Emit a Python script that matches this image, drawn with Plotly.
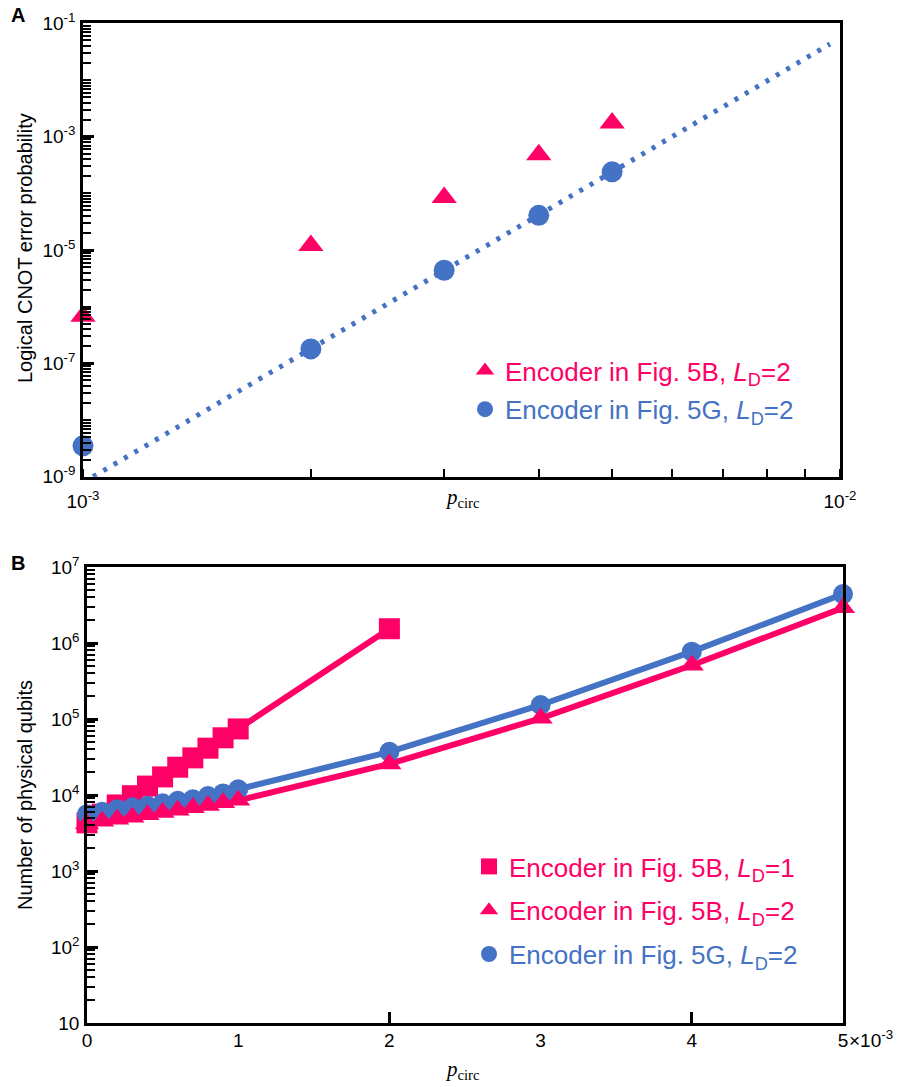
import plotly.graph_objects as go

W, H = 906, 1087
PINK = "#FF0066"
BLUE = "#4472C4"
SANS = "Liberation Sans, Arial, sans-serif"
SERIF = "Liberation Serif, Times New Roman, serif"

# ---------------- Panel A data ----------------
a_p = [1e-3, 2e-3, 3e-3, 4e-3, 5e-3]
a_tri = [6.8e-7, 1.2e-5, 8.5e-5, 4.8e-4, 1.75e-3]       # Encoder 5B, LD=2
a_circ = [3.5e-9, 1.8e-7, 4.4e-6, 4.1e-5, 2.4e-4]       # Encoder 5G, LD=2
fit_x = [1.031e-3, 9.70e-3]                               # dotted fit endpoints
fit_y = [1.0e-9, 4.33e-2]

# ---------------- Panel B data ----------------
b_sq_p = [0, 1e-4, 2e-4, 3e-4, 4e-4, 5e-4, 6e-4, 7e-4, 8e-4, 9e-4, 1e-3, 2e-3]
b_sq = [4.3e3, 5.6e3, 7.4e3, 9.8e3, 1.31e4, 1.73e4, 2.32e4, 3.08e4, 4.13e4,
        5.66e4, 7.4e4, 1.54e6]                              # Encoder 5B, LD=1
b_p = [0, 1e-4, 2e-4, 3e-4, 4e-4, 5e-4, 6e-4, 7e-4, 8e-4, 9e-4, 1e-3,
       2e-3, 3e-3, 4e-3, 5e-3]
b_tri = [4.2e3, 4.5e3, 4.8e3, 5.1e3, 5.5e3, 5.9e3, 6.3e3, 6.8e3, 7.3e3,
         7.9e3, 8.5e3, 2.56e4, 1.02e5, 5.1e5, 2.9e6]        # Encoder 5B, LD=2
b_circ = [5.6e3, 6.0e3, 6.5e3, 6.9e3, 7.2e3, 7.8e3, 8.4e3, 8.8e3, 9.7e3,
          1.05e4, 1.19e4, 3.7e4, 1.53e5, 7.7e5, 4.4e6]      # Encoder 5G, LD=2

a_yticks = [1e-1, 1e-3, 1e-5, 1e-7, 1e-9]
a_yticktext = ["10<sup>-1</sup>", "10<sup>-3</sup>", "10<sup>-5</sup>",
               "10<sup>-7</sup>", "10<sup>-9</sup>"]
a_xticks = [1e-3, 1e-2]
a_xticktext = ["10<sup>-3</sup>", "10<sup>-2</sup>"]
b_yticks = [1e1, 1e2, 1e3, 1e4, 1e5, 1e6, 1e7]
b_yticktext = ["10", "10<sup>2</sup>", "10<sup>3</sup>", "10<sup>4</sup>",
               "10<sup>5</sup>", "10<sup>6</sup>", "10<sup>7</sup>"]
b_xticks = [0, 1e-3, 2e-3, 3e-3, 4e-3, 5e-3]
b_xticktext = ["0", "1", "2", "3", "4", "5"]
b_xmarks = [2e-3, 4e-3]


def lab(color, txt, ld):
    return (f'<span style="color:{color}">{txt}, <i>L</i><sub>D</sub>={ld}</span>')


fig = go.Figure()

# Panel A
fig.add_trace(go.Scatter(x=fit_x, y=fit_y, mode="lines", xaxis="x", yaxis="y",
                         line=dict(color=BLUE, width=5, dash="4px,8px"),
                         showlegend=False, hoverinfo="skip"))
fig.add_trace(go.Scatter(x=a_p, y=a_circ, mode="markers", xaxis="x", yaxis="y",
                         marker=dict(symbol="circle", size=21, color=BLUE),
                         cliponaxis=False, legendgroup="a2",
                         name=lab(BLUE, "Encoder in Fig. 5G", 2),
                         legend="legend", legendrank=2))
fig.add_trace(go.Scatter(x=a_p, y=a_tri, mode="markers", xaxis="x", yaxis="y",
                         marker=dict(symbol="triangle-up", size=22, color=PINK),
                         cliponaxis=False, legendgroup="a1",
                         name=lab(PINK, "Encoder in Fig. 5B", 2),
                         legend="legend", legendrank=1))

# Panel B lines
fig.add_trace(go.Scatter(x=b_sq_p, y=b_sq, mode="lines", xaxis="x2", yaxis="y2",
                         line=dict(color=PINK, width=6), showlegend=False))
fig.add_trace(go.Scatter(x=b_p, y=b_tri, mode="lines", xaxis="x2", yaxis="y2",
                         line=dict(color=PINK, width=6), showlegend=False))
fig.add_trace(go.Scatter(x=b_p, y=b_circ, mode="lines", xaxis="x2", yaxis="y2",
                         line=dict(color=BLUE, width=6), showlegend=False))
# Panel B markers (overlay axis drawn above lines)
fig.add_trace(go.Scatter(x=b_sq_p, y=b_sq, mode="markers", xaxis="x3", yaxis="y2",
                         marker=dict(symbol="square", size=21, color=PINK),
                         cliponaxis=False, legendgroup="b1",
                         name=lab(PINK, "Encoder in Fig. 5B", 1),
                         legend="legend2", legendrank=1))
fig.add_trace(go.Scatter(x=b_p, y=b_circ, mode="markers", xaxis="x3", yaxis="y2",
                         marker=dict(symbol="circle", size=20, color=BLUE),
                         cliponaxis=False, legendgroup="b3",
                         name=lab(BLUE, "Encoder in Fig. 5G", 2),
                         legend="legend2", legendrank=3))
fig.add_trace(go.Scatter(x=b_p, y=b_tri, mode="markers", xaxis="x3", yaxis="y2",
                         marker=dict(symbol="triangle-up", size=21, color=PINK),
                         cliponaxis=False, legendgroup="b2",
                         name=lab(PINK, "Encoder in Fig. 5B", 2),
                         legend="legend2", legendrank=2))

axcommon = dict(showline=True, linecolor="black", linewidth=2.5, mirror=True,
                showgrid=False, zeroline=False, automargin=False,
                tickfont=dict(family=SANS, size=19, color="black"))
minor_log = dict(ticks="inside", ticklen=8, tickwidth=2, tickcolor="black",
                 dtick="D1", showgrid=False)


def note(text, x, y, size=20, family=SANS, angle=0, xanchor="center"):
    return dict(text=text, x=x / W, y=1 - y / H, xref="paper", yref="paper",
                xanchor=xanchor, yanchor="middle", textangle=angle,
                showarrow=False, font=dict(family=family, size=size, color="black"))


fig.update_layout(
    width=W, height=H,
    margin=dict(l=0, r=0, t=0, b=0, pad=0, autoexpand=False),
    paper_bgcolor="white", plot_bgcolor="white",
    font=dict(family=SANS, size=19, color="black"),
    xaxis=dict(type="log", range=[-3, -2], domain=[83 / W, 840 / W], anchor="y",
               tickmode="array", tickvals=a_xticks, ticktext=a_xticktext,
               ticks="", ticklabelstandoff=6, minor=minor_log, **axcommon),
    yaxis=dict(type="log", range=[-9, -1], domain=[1 - 476.7 / H, 1 - 23.4 / H],
               anchor="x", tickmode="array", tickvals=a_yticks, ticktext=a_yticktext,
               ticks="inside", ticklen=11, tickwidth=2.5, tickcolor="black",
               ticklabelstandoff=1, minor=minor_log, **axcommon),
    xaxis2=dict(range=[0, 0.005], domain=[87 / W, 843 / W], anchor="y2",
                tickmode="array", tickvals=b_xticks, ticktext=b_xticktext,
                ticks="", ticklabelstandoff=-2, **axcommon),
    xaxis3=dict(range=[0, 0.005], overlaying="x2", anchor="y2", side="bottom",
                tickmode="array", tickvals=b_xmarks, ticks="inside", ticklen=11,
                tickwidth=2.5, tickcolor="black", showticklabels=False,
                showline=False, showgrid=False, zeroline=False, automargin=False),
    yaxis2=dict(type="log", range=[1, 7], domain=[1 - 1023 / H, 1 - 567 / H],
                anchor="x2", tickmode="array", tickvals=b_yticks, ticktext=b_yticktext,
                ticks="inside", ticklen=11, tickwidth=2.5, tickcolor="black",
                ticklabelstandoff=1, minor=minor_log, **axcommon),
    legend=dict(x=465 / W, y=1 - 347 / H, xanchor="left", yanchor="top",
                bgcolor="rgba(0,0,0,0)", font=dict(family=SANS, size=26),
                traceorder="grouped", tracegroupgap=2),
    legend2=dict(x=469 / W, y=1 - 843 / H, xanchor="left", yanchor="top",
                 bgcolor="rgba(0,0,0,0)", font=dict(family=SANS, size=26),
                 traceorder="grouped", tracegroupgap=7),
    annotations=[
        note("<b>A</b>", 18, 15),
        note("<b>B</b>", 18, 563),
        note("Logical CNOT error probability", 25, 248, angle=-90),
        note("Number of physical qubits", 25, 795, angle=-90),
        note("<i>p</i><sub>circ</sub>", 462, 498, size=21, family=SERIF),
        note("<i>p</i><sub>circ</sub>", 462, 1070, size=21, family=SERIF),
        note("×10<sup>-3</sup>", 847, 1039, size=19, xanchor="left"),
    ],
)

fig.write_html("out.html", config={"displayModeBar": False},
               post_script="document.body.style.margin='0px';"
                           "document.body.style.overflow='hidden';")
